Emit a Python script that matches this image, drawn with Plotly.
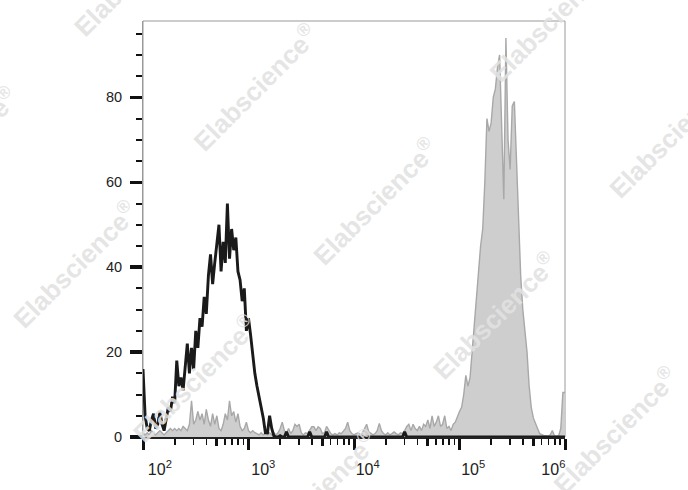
import numpy as np
import plotly.graph_objects as go

# ---- histogram channels: log10 bins from 10^2 to 10^6 ----
LOG_START = 2.0
LOG_STEP = 0.02

# black outline histogram (counts per channel)
black_counts = [
    16, 5, 2, 1.5, 4, 5.5, 2, 3, 6, 3,
    1.5, 4, 7, 6, 9.5, 8, 18, 12, 14, 11,
    17, 22, 15, 21, 16, 25, 21, 28, 26, 33,
    29, 38, 43, 36, 41, 45, 50, 39, 46, 41,
    55, 42, 49, 44, 47, 39, 37, 32, 35, 25,
    28, 24, 19, 15, 12, 9.5, 7, 4.5, 1, 1,
    5, 2, 0.3, 0, 0, 0.3, 0, 0, 1.2, 0,
    0, 0, 0, 0, 0, 0, 0, 0, 0, 1.2,
    0, 0, 0, 0, 0, 0, 0, 1.2, 0, 0,
    0, 0, 0, 0, 0, 0, 0, 0, 0, 0,
    0, 0, 0, 0, 0, 0, 0, 0, 0, 0,
    0, 0, 0, 0, 0, 0, 0, 0, 0, 0,
    0, 0, 0, 0, 1.2, 0, 0, 0, 0, 0,
    0, 0, 0, 0, 0, 0, 0, 0, 0, 0,
    0, 0, 0, 0, 0, 0, 0, 0, 0, 0,
    0, 0, 0, 0, 0, 0, 0, 0, 0, 0,
    0, 0, 0, 0, 0, 0, 0, 0, 0, 0,
    0, 0, 0, 0, 0, 0, 0, 0, 0, 0,
    0, 0, 0, 0, 0, 0, 0, 0, 0, 0,
    0, 0, 0, 0, 0, 0, 0, 0, 0, 0,
    0,
]

# gray filled histogram (counts per channel)
gray_counts = [
    1, 0.5, 1, 0.5, 1.5, 1, 0.5, 1, 1.5, 1,
    0.5, 1, 1.5, 2, 1.5, 2, 1.5, 2, 1.5, 2.5,
    2, 1.5, 3, 8.5, 3, 4, 6, 4, 5.5, 3,
    6.5, 4, 2.5, 5.5, 3, 5, 2, 1.5, 3, 5.5,
    4, 8.5, 5, 6, 3.5, 5.5, 2.5, 1.5, 2, 3.5,
    1.5, 1, 1.5, 1, 0.8, 0.5, 1, 0.5, 1, 0.5,
    1, 0.5, 1, 0.5, 1, 2, 3.5, 1.5, 1, 2,
    0.8, 1.5, 3, 2.5, 3, 1, 0.5, 1, 0.8, 1.5,
    2.4, 2.4, 1.5, 2.4, 2, 0.8, 1, 2.5, 1.5, 0.8,
    0.5, 0.8, 0.5, 1, 0.8, 1.5, 2, 3.5, 1.5, 0.8,
    0.5, 0.8, 1, 0.5, 1, 2, 3, 1.2, 0.8, 0.5,
    0.8, 1.5, 3.2, 1.5, 0.8, 0.5, 1, 0.5, 0.8, 1.2,
    0.8, 0.5, 1, 0.8, 1.5, 2.5, 3, 1.5, 3, 2,
    1.5, 2.5, 1.5, 3, 2.5, 4, 2, 5, 2.5, 3.5,
    5, 2.5, 3, 5, 2, 2.5, 1.5, 3, 3.5, 5,
    6, 7, 10, 14.5, 12, 14, 20, 27, 33, 40,
    45, 49, 60, 75, 72, 74, 80, 82, 87, 90,
    71, 56, 94, 70, 63, 78, 79, 64, 48, 38,
    30, 25, 20, 12, 7, 4.5, 3, 2, 0.8, 0.5,
    0.3, 0.3, 0.2, 0.5, 1.5, 0.3, 0.2, 0.3, 2, 10.5,
    10.5,
]

# axis ticks / labels
Y_TICKS = [0, 20, 40, 60, 80]
X_DECADES = [2, 3, 4, 5, 6]
X_TICK_TEXT = ["10<sup>2</sup>", "10<sup>3</sup>", "10<sup>4</sup>",
               "10<sup>5</sup>", "10<sup>6</sup>"]
WATERMARK = "Elabscience<sup>®</sup>"

channels = 10 ** (LOG_START + LOG_STEP * np.arange(len(gray_counts)))

# ---- layout geometry (pixels) ----
W, H = 688, 490
ML, MR, MT, MB = 143, 123, 21, 47
PW, PH = W - ML - MR, H - MT - MB

FONT = "Arial, Liberation Sans, sans-serif"

fig = go.Figure()
fig.add_trace(go.Scatter(
    x=channels, y=gray_counts, mode="lines",
    line=dict(color="#a8a8a8", width=1.4),
    fill="tozeroy", fillcolor="#cecece",
    hoverinfo="skip", showlegend=False))
fig.add_trace(go.Scatter(
    x=channels, y=black_counts, mode="lines",
    line=dict(color="#1a1a1a", width=2.9),
    hoverinfo="skip", showlegend=False))
# invisible anchors so the overlay axes are rendered
for ax in ("x2", "x3"):
    fig.add_trace(go.Scatter(x=[1e4], y=[0], xaxis=ax, mode="markers",
                             marker=dict(opacity=0), hoverinfo="skip",
                             showlegend=False))

decade_vals = [10.0 ** d for d in X_DECADES]
minor_vals = [k * 10.0 ** d for d in X_DECADES[:-1] for k in (2, 3, 4, 6, 7, 8, 9)]
five_vals = [5 * 10.0 ** d for d in X_DECADES[:-1]]
label_shift = [0.16, 0.14, 0.13, 0.13, -0.11]
label_vals = [10.0 ** (d + s) for d, s in zip(X_DECADES, label_shift)]

common_x = dict(type="log", range=[2, 6], showgrid=False, zeroline=False,
                fixedrange=True)

fig.update_layout(
    width=W, height=H,
    margin=dict(l=ML, r=MR, t=MT, b=MB, pad=0),
    paper_bgcolor="white", plot_bgcolor="white",
    showlegend=False,
    font=dict(family=FONT, color="#222"),
    xaxis=dict(**common_x, tickvals=decade_vals, ticks="outside", ticklen=11,
               tickwidth=3, tickcolor="#111", showticklabels=False,
               showline=True, linecolor="#222", linewidth=2,
               minor=dict(tickvals=minor_vals, ticks="outside", ticklen=6,
                          tickwidth=1.6, tickcolor="#111", showgrid=False)),
    xaxis2=dict(**common_x, overlaying="x", anchor="y", side="bottom",
                tickvals=five_vals, ticks="outside", ticklen=8, tickwidth=3,
                tickcolor="#111", showticklabels=False, showline=False),
    xaxis3=dict(**common_x, overlaying="x", anchor="y", side="bottom",
                tickvals=label_vals, ticktext=X_TICK_TEXT, ticks="",
                showline=False, ticklabelstandoff=21,
                tickfont=dict(family=FONT, size=16, color="#222")),
    yaxis=dict(range=[0, 98], tickvals=Y_TICKS, ticks="outside", ticklen=12,
               tickwidth=3.5, tickcolor="#111", showgrid=False, zeroline=False,
               showline=True, linecolor="#999", linewidth=1, fixedrange=True,
               ticklabelstandoff=5,
               tickfont=dict(family=FONT, size=14.5, color="#222"),
               minor=dict(dtick=5, ticks="outside", ticklen=6, tickwidth=2,
                          tickcolor="#111", showgrid=False)),
    shapes=[dict(type="rect", xref="paper", yref="paper", x0=0, y0=0, x1=1, y1=1,
                 line=dict(color="#999", width=1), layer="below")],
)

# watermark centres (pixels in the 688x490 image)
wm_centres = [(136, -28), (255, 88), (375, 204), (495, 320), (615, 436),
              (-45, 152), (75, 268), (195, 384), (315, 500),
              (551, 18), (671, 136)]
for px, py in wm_centres:
    fig.add_annotation(
        x=(px - ML) / PW, y=(H - MB - py) / PH, xref="paper", yref="paper",
        text=WATERMARK, showarrow=False, textangle=-45,
        xanchor="center", yanchor="middle",
        font=dict(family=FONT, size=26, color="rgba(226,226,226,0.9)",
                  weight="bold"))

fig.write_html("out.html",
               config={"displayModeBar": False, "staticPlot": True},
               post_script="document.body.style.margin='0';"
                           "document.body.style.overflow='hidden';")
